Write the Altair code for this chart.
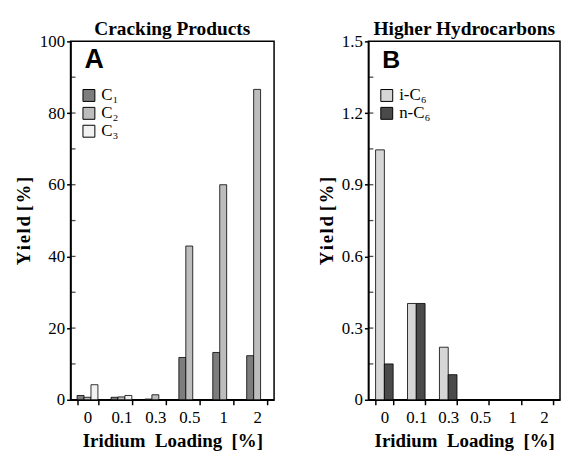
import altair as alt
import pandas as pd

# ---------------- data ----------------
loadings = ["0", "0.1", "0.3", "0.5", "1", "2"]

cracking_series = ["C\u2081", "C\u2082", "C\u2083"]
c1 = [1.2, 0.7, 0.2, 11.8, 13.2, 12.3]
c2 = [0.7, 0.8, 1.4, 42.9, 60.0, 86.6]
c3 = [4.2, 1.2, 0.0, 0.0, 0.0, 0.0]

higher_series = ["i-C\u2086", "n-C\u2086"]
ic6 = [1.046, 0.403, 0.22, 0.0, 0.0, 0.0]
nc6 = [0.15, 0.403, 0.105, 0.0, 0.0, 0.0]

ticks_a = [10, 20, 30, 40, 50, 60, 70, 80, 90]
ticks_b = [0.15, 0.3, 0.45, 0.6, 0.75, 0.9, 1.05, 1.2, 1.35]

SERIF = "Liberation Serif"
SANS = "Liberation Sans"

rows_a = []
for name, vals in zip(cracking_series, [c1, c2, c3]):
    for l, v in zip(loadings, vals):
        rows_a.append({"Loading": l, "Product": name, "Yield": v})
df_a = pd.DataFrame(rows_a)

rows_b = []
for name, vals in zip(higher_series, [ic6, nc6]):
    for l, v in zip(loadings, vals):
        rows_b.append({"Loading": l, "Product": name, "Yield": v})
df_b = pd.DataFrame(rows_b)

XTITLE = "Iridium\u00a0 Loading\u00a0 [%]"
HS = "\u200a"
YTITLE = HS.join(list("Yield")) + " " + HS.join(list("[%]"))


def panel(df, series, colors, ymax, yvals, minor, width, step_pad, letter,
          letter_size, legend_y, row_pad, title, title_pad, fmt):
    x = alt.X("Loading:N", sort=loadings, title=XTITLE,
              scale=alt.Scale(paddingInner=step_pad, paddingOuter=step_pad / 2),
              axis=alt.Axis(labelAngle=0, tickBand="extent", tickSize=5,
                            labelPadding=5, titlePadding=6))
    y = alt.Y("Yield:Q", title=YTITLE,
              scale=alt.Scale(domain=[0, ymax], nice=False, zero=True),
              axis=alt.Axis(values=yvals, tickSize=4, labelPadding=2,
                            titlePadding=title_pad, format=fmt))
    bars = alt.Chart(df).mark_bar(stroke="black", strokeWidth=0.8).encode(
        x=x,
        y=y,
        xOffset=alt.XOffset("Product:N", sort=series,
                            scale=alt.Scale(paddingInner=0, paddingOuter=0)),
        color=alt.Color("Product:N", sort=series,
                        scale=alt.Scale(domain=series, range=colors),
                        legend=alt.Legend(orient="none", legendX=10,
                                          legendY=legend_y, title=None,
                                          rowPadding=row_pad)),
    )
    mt = alt.Chart(pd.DataFrame({"Yield": minor})).mark_tick(
        orient="horizontal", color="black", thickness=1.3, size=5
    ).encode(y=alt.Y("Yield:Q", title=YTITLE), x=alt.value(2.5))
    lab = alt.Chart(pd.DataFrame({"t": [letter]})).mark_text(
        font=SANS, fontWeight="bold", fontSize=letter_size, align="left",
        baseline="alphabetic", color="black"
    ).encode(text="t:N", x=alt.value(14), y=alt.value(27))
    return alt.layer(bars, mt, lab).properties(
        width=width, height=361,
        title=alt.Title(title, anchor="middle", offset=-7),
    )


left = panel(df_a, cracking_series, ["#7d7d7d", "#bdbdbd", "#f2f2f2"], 100,
             [0, 20, 40, 60, 80, 100], ticks_a, 205, 0.386, "A", 27, 46, 0,
             "Cracking Products", 6, "d")
right = panel(df_b, higher_series, ["#d6d6d6", "#4a4a4a"], 1.5,
              [0, 0.3, 0.6, 0.9, 1.2, 1.5], ticks_b, 193, 0.45, "B", 25, 46, 0,
              "Higher Hydrocarbons", 5, ".1~f")

chart = alt.hconcat(left, right, spacing=42).resolve_scale(
    color="independent", x="independent", y="independent", xOffset="independent"
).properties(
    padding={"left": 5, "top": 8, "right": 0, "bottom": 0}
).configure_view(
    stroke="black", strokeWidth=1.5
).configure_axis(
    domainColor="black", domainWidth=1.5, tickColor="black", tickWidth=1.5,
    labelFont=SERIF, labelFontSize=17, labelColor="black",
    titleFont=SERIF, titleFontSize=19, titleFontWeight="bold", titleColor="black",
    grid=False,
).configure_title(
    font=SERIF, fontSize=19.5, fontWeight="bold", color="black"
).configure_legend(
    labelFont=SERIF, labelFontSize=17, labelColor="black",
    symbolType="square", symbolSize=144, symbolStrokeColor="black",
    symbolStrokeWidth=1, labelOffset=4,
)

chart.save("out.html", embed_options={"renderer": "svg", "actions": False})
